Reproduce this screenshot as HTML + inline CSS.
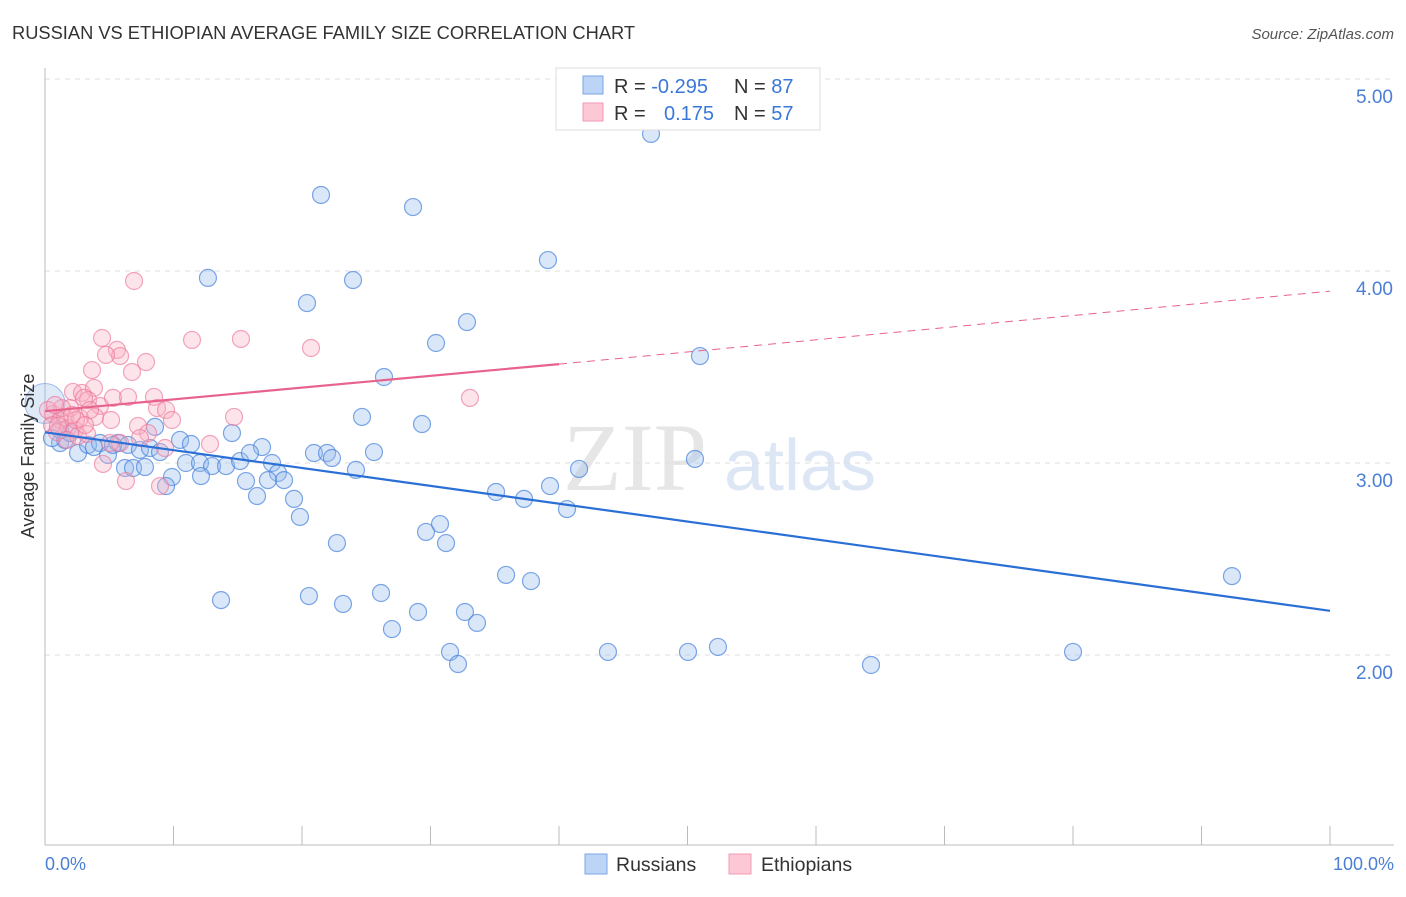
<!DOCTYPE html>
<html><head><meta charset="utf-8"><style>
body{margin:0;background:#fff;font-family:"Liberation Sans",sans-serif}
</style></head><body>
<svg id="c" width="1406" height="892" xmlns="http://www.w3.org/2000/svg" style="font-family:'Liberation Sans',sans-serif">
<text x="12" y="39" font-size="18.3" fill="#333">RUSSIAN VS ETHIOPIAN AVERAGE FAMILY SIZE CORRELATION CHART</text>
<text x="1394" y="39" font-size="15" fill="#555" text-anchor="end" font-style="italic">Source: ZipAtlas.com</text>
<text x="635" y="490" font-size="96" fill="#e6e6e6" text-anchor="middle" font-family="Liberation Serif">ZIP</text>
<text x="800" y="490" font-size="72" fill="#dde6f5" text-anchor="middle">atlas</text>
<g id="grid"></g><g id="pts"></g><g id="lines"></g>
<text transform="translate(34,456) rotate(-90)" font-size="18" fill="#333" text-anchor="middle">Average Family Size</text>
<text x="45" y="870" font-size="18" fill="#4a7fd4">0.0%</text>
<text x="1394" y="870" font-size="18" fill="#4a7fd4" text-anchor="end">100.0%</text>
<g>
<rect x="556" y="68" width="264" height="62" fill="#fff" stroke="#ddd"/>
<rect x="583" y="76" width="20" height="18" fill="#bcd4f5" stroke="#7aa6e6"/>
<rect x="583" y="103" width="20" height="18" fill="#fcc8d6" stroke="#f09ab2"/>
<text x="614" y="93" font-size="20" fill="#333">R = <tspan fill="#3a78d8">-0.295</tspan></text>
<text x="734" y="93" font-size="20" fill="#333">N = <tspan fill="#3a78d8">87</tspan></text>
<text x="614" y="120" font-size="20" fill="#333">R = <tspan fill="#3a78d8" x="664">0.175</tspan></text>
<text x="734" y="120" font-size="20" fill="#333">N = <tspan fill="#3a78d8">57</tspan></text>
</g>
<g>
<rect x="585" y="854" width="22" height="20" fill="#bcd4f5" stroke="#7aa6e6"/>
<text x="616" y="871" font-size="19.5" fill="#333">Russians</text>
<rect x="729" y="854" width="22" height="20" fill="#fcc8d6" stroke="#f09ab2"/>
<text x="761" y="871" font-size="19.5" fill="#333">Ethiopians</text>
</g>
</svg>
<script>
const yTicks=[2,3,4,5];
const yTickLabels=["2.00","3.00","4.00","5.00"];
const xTicks=[0,10,20,30,40,50,60,70,80,90,100];
const bluePx=[[651,134],[321,195],[413,207],[548,260],[208,278],[353,280],[307,303],[467,322],[436,343],[700,356],[384,377],[362,417],[422,424],[232,433],[155,427],[180,440],[191,444],[262,447],[314,453],[327,453],[332,458],[374,452],[695,459],[579,469],[356,470],[60,443],[65,440],[78,453],[88,445],[100,443],[108,455],[118,443],[128,445],[140,450],[150,448],[160,452],[172,477],[186,463],[200,463],[212,466],[226,466],[240,461],[250,453],[272,463],[278,473],[284,480],[246,481],[268,480],[257,496],[294,499],[300,517],[496,492],[524,499],[550,486],[567,509],[125,468],[133,468],[145,467],[166,486],[201,476],[440,524],[426,532],[446,543],[337,543],[506,575],[531,581],[1232,576],[221,600],[309,596],[343,604],[381,593],[418,612],[465,612],[477,623],[392,629],[450,652],[458,664],[608,652],[688,652],[718,647],[871,665],[1073,652],[60,430],[70,433],[52,438],[94,447],[113,445]];
const pinkPx=[[134,281],[192,340],[241,339],[311,348],[102,338],[117,350],[120,356],[106,355],[146,362],[92,370],[132,372],[73,392],[82,393],[94,388],[88,400],[100,406],[84,398],[113,398],[128,397],[154,397],[157,408],[166,410],[172,420],[111,420],[138,426],[148,433],[470,398],[234,417],[53,414],[60,420],[65,418],[68,428],[75,430],[52,425],[57,432],[67,440],[78,436],[87,434],[120,443],[110,443],[140,438],[165,448],[210,444],[103,464],[126,481],[160,486],[80,418],[95,417],[70,408],[62,408],[48,410],[55,405],[90,410],[76,420],[58,426],[72,415],[85,425]];
const toX=p=>(p-45)/12.85, toY=p=>5-(p-79)/192;
const russiansX=bluePx.map(p=>+toX(p[0]).toFixed(2)), russiansY=bluePx.map(p=>+toY(p[1]).toFixed(3));
const ethiopiansX=pinkPx.map(p=>+toX(p[0]).toFixed(2)), ethiopiansY=pinkPx.map(p=>+toY(p[1]).toFixed(3));
const X=v=>45+v*12.85, Y=v=>79+(5-v)*192;
const NS="http://www.w3.org/2000/svg";
function mk(tag,attrs,parent){const e=document.createElementNS(NS,tag);for(const k in attrs)e.setAttribute(k,attrs[k]);parent.appendChild(e);return e;}
const grid=document.getElementById('grid'),pts=document.getElementById('pts'),lines=document.getElementById('lines');
yTicks.forEach((t,i)=>{
 const l=mk('line',{x1:45,x2:1394,y1:Y(t),y2:Y(t),stroke:'#ddd','stroke-dasharray':'5,5'},grid);
 
 
 const tx=mk('text',{x:1393,y:Y(t)+24,'font-size':19,fill:'#4a7fd4','text-anchor':'end'},grid);
 tx.textContent=yTickLabels[i];
 
 
});
mk('line',{x1:45,x2:45,y1:68,y2:845,stroke:'#bbb'},grid);
mk('line',{x1:45,x2:1394,y1:845,y2:845,stroke:'#bbb'},grid);
xTicks.forEach(t=>{const l=mk('line',{x1:X(t),x2:X(t),y1:826,y2:845,stroke:'#bbb'},grid);
 
 });
const big=mk('circle',{cx:X(0),cy:Y(3.31),r:20,fill:'rgba(150,185,235,0.3)',stroke:'rgba(90,140,220,0.55)'},pts);


russiansX.forEach((x,i)=>{const c=mk('circle',{cx:X(x),cy:Y(russiansY[i]),r:8.5,fill:'rgba(150,185,235,0.35)',stroke:'rgba(70,130,220,0.7)','stroke-width':1.2},pts);
 
 });
ethiopiansX.forEach((x,i)=>{const c=mk('circle',{cx:X(x),cy:Y(ethiopiansY[i]),r:8.5,fill:'rgba(248,175,195,0.35)',stroke:'rgba(235,120,155,0.65)','stroke-width':1.2},pts);
 
 });
const bt=mk('line',{x1:X(0),y1:Y(3.16),x2:X(100),y2:Y(2.23),stroke:'#2a6fd6','stroke-width':2.2},lines);


const ps=mk('line',{x1:X(0),y1:Y(3.27),x2:X(40),y2:Y(3.515),stroke:'#e8628e','stroke-width':2.2},lines);


const pd=mk('line',{x1:X(40),y1:Y(3.515),x2:X(100),y2:Y(3.895),stroke:'#e8628e','stroke-width':1,'stroke-dasharray':'8,6'},lines);


</script>
</body></html>
